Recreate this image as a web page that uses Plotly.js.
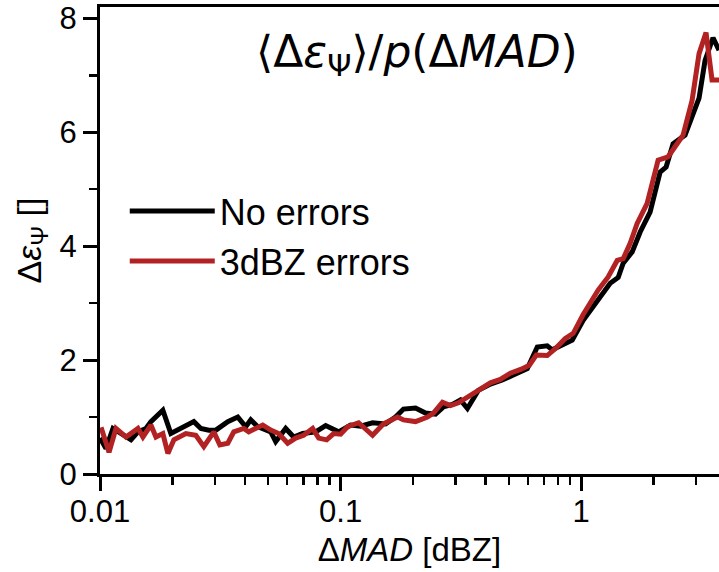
<!DOCTYPE html>
<html>
<head>
<meta charset="utf-8">
<script src="https://cdn.plot.ly/plotly-3.0.1.min.js"></script>
<style>html,body{margin:0;padding:0;background:#fff;}#chart{width:719px;height:572px;}</style>
</head>
<body>
<div id="chart"></div>
<script>
// Series: No errors (black)
const xNoErr = [0.01,0.01059,0.01132,0.01222,0.01345,0.01438,0.01552,0.01628,0.01741,0.01825,0.0197,0.02211,0.02455,0.02625,0.02834,0.0303,0.03397,0.03738,0.04035,0.04232,0.04524,0.05123,0.05373,0.05912,0.06382,0.06954,0.07877,0.08666,0.09811,0.11,0.1211,0.1358,0.1537,0.1691,0.1825,0.2048,0.2253,0.2479,0.2676,0.2916,0.3148,0.3365,0.3738,0.4193,0.4701,0.5221,0.5969,0.6567,0.7224,0.7578,0.8182,0.9176,1.019,1.176,1.319,1.424,1.494,1.628,1.758,1.933,2.127,2.253,2.409,2.701,2.889,3.088,3.27,3.53,3.738];
const yNoErr = [0.63,0.45,0.80,0.72,0.60,0.74,0.80,0.92,1.03,1.12,0.71,0.83,0.92,0.80,0.77,0.77,0.92,1.00,0.83,0.95,0.83,0.74,0.57,0.80,0.65,0.71,0.74,0.85,0.74,0.86,0.84,0.90,0.88,1.00,1.14,1.16,1.07,1.05,1.18,1.22,1.30,1.15,1.47,1.58,1.65,1.74,1.85,2.23,2.25,2.18,2.25,2.35,2.70,3.05,3.35,3.45,3.70,3.90,4.25,4.60,5.30,5.39,5.80,5.95,6.30,6.60,7.26,7.66,7.44];
// Series: 3dBZ errors (red)
const x3dBZ = [0.0101,0.0109,0.01165,0.01282,0.01438,0.01508,0.01628,0.01708,0.01825,0.01915,0.02028,0.02275,0.02502,0.02701,0.02972,0.03148,0.03397,0.03598,0.03958,0.04152,0.04746,0.05123,0.05529,0.06026,0.06505,0.07021,0.07654,0.08105,0.08749,0.09355,0.1,0.1069,0.1188,0.1358,0.1508,0.1724,0.1825,0.2048,0.2296,0.2432,0.265,0.2861,0.3088,0.3365,0.3703,0.4193,0.4612,0.5074,0.5637,0.6085,0.6505,0.7224,0.7801,0.8583,0.9264,1.019,1.176,1.294,1.411,1.494,1.597,1.708,1.879,2.087,2.296,2.65,2.889,3.088,3.301,3.496,3.738];
const y3dBZ = [0.82,0.38,0.80,0.65,0.80,0.65,0.86,0.65,0.71,0.36,0.60,0.71,0.68,0.48,0.74,0.51,0.54,0.74,0.80,0.74,0.86,0.77,0.71,0.54,0.63,0.68,0.80,0.63,0.60,0.71,0.70,0.83,0.90,0.68,0.88,1.00,0.95,0.92,1.00,1.07,1.26,1.20,1.25,1.35,1.48,1.60,1.66,1.77,1.84,1.91,2.09,2.08,2.20,2.38,2.47,2.80,3.23,3.46,3.75,3.78,4.05,4.40,4.75,5.51,5.57,5.95,6.56,7.38,7.75,6.92,6.92];

const seriesNames = ['No errors', '3dBZ errors'];
const xTickVals = [0.01, 0.1, 1];
const xTickText = ['0.01', '0.1', '1'];
const xMinorVals = [0.02,0.03,0.04,0.05,0.06,0.07,0.08,0.09,0.2,0.3,0.4,0.5,0.6,0.7,0.8,0.9,2,3];
const yTickVals = [0, 2, 4, 6, 8];
const yMinorVals = [1, 3, 5, 7];

const traces = [
  {x: xNoErr, y: yNoErr, name: seriesNames[0], type: 'scatter', mode: 'lines',
   line: {color: '#000000', width: 5}},
  {x: x3dBZ, y: y3dBZ, name: seriesNames[1], type: 'scatter', mode: 'lines',
   line: {color: '#b22222', width: 5}}
];

const sans = 'Liberation Sans, Arial, sans-serif';
const tickFont = {family: sans, size: 31, color: '#000'};

const layout = {
  width: 719, height: 572,
  paper_bgcolor: '#ffffff', plot_bgcolor: '#ffffff',
  margin: {l: 100, r: 0, t: 7, b: 98, pad: 0},
  title: {
    text: '⟨Δ<i>ε</i><sub>Ψ</sub>⟩/<i>p</i>(Δ<i>MAD</i>)',
    font: {family: 'DejaVu Sans', size: 44, color: '#000'},
    x: 0.512, xanchor: 'center', y: 0.91, yanchor: 'middle', xref: 'paper', yref: 'container'
  },
  xaxis: {
    type: 'log', range: [-2, 0.5726],
    showline: true, linewidth: 3, linecolor: '#000', mirror: true,
    showgrid: false, zeroline: false,
    tickmode: 'array', tickvals: xTickVals, ticktext: xTickText,
    ticks: 'outside', ticklen: 14, tickwidth: 3, tickcolor: '#000',
    ticklabelstandoff: -6,
    minor: {tickmode: 'array', tickvals: xMinorVals, ticks: 'outside', ticklen: 8, tickwidth: 2.5, tickcolor: '#000', showgrid: false},
    tickfont: tickFont,
    title: {text: 'Δ<i>MAD</i> [dBZ]', font: {family: sans, size: 33, color: '#000'}, standoff: 10}
  },
  yaxis: {
    range: [0, 8.2],
    showline: true, linewidth: 3, linecolor: '#000',
    showgrid: false, zeroline: false,
    tickmode: 'array', tickvals: yTickVals,
    ticks: 'outside', ticklen: 14, tickwidth: 3, tickcolor: '#000',
    minor: {tickmode: 'array', tickvals: yMinorVals, ticks: 'outside', ticklen: 8, tickwidth: 2.5, tickcolor: '#000', showgrid: false},
    tickfont: tickFont,
    title: {text: 'Δ<i>ε</i><sub>Ψ</sub> []', font: {family: sans, size: 34, color: '#000'}, standoff: 8}
  },
  legend: {
    x: 0.04, y: 0.627, xanchor: 'left', yanchor: 'top',
    bgcolor: 'rgba(0,0,0,0)', borderwidth: 0,
    font: {family: sans, size: 36, color: '#000'},
    itemwidth: 85, tracegroupgap: 0
  },
  showlegend: true
};

Plotly.newPlot('chart', traces, layout, {displayModeBar: false, staticPlot: true});
</script>
</body>
</html>
